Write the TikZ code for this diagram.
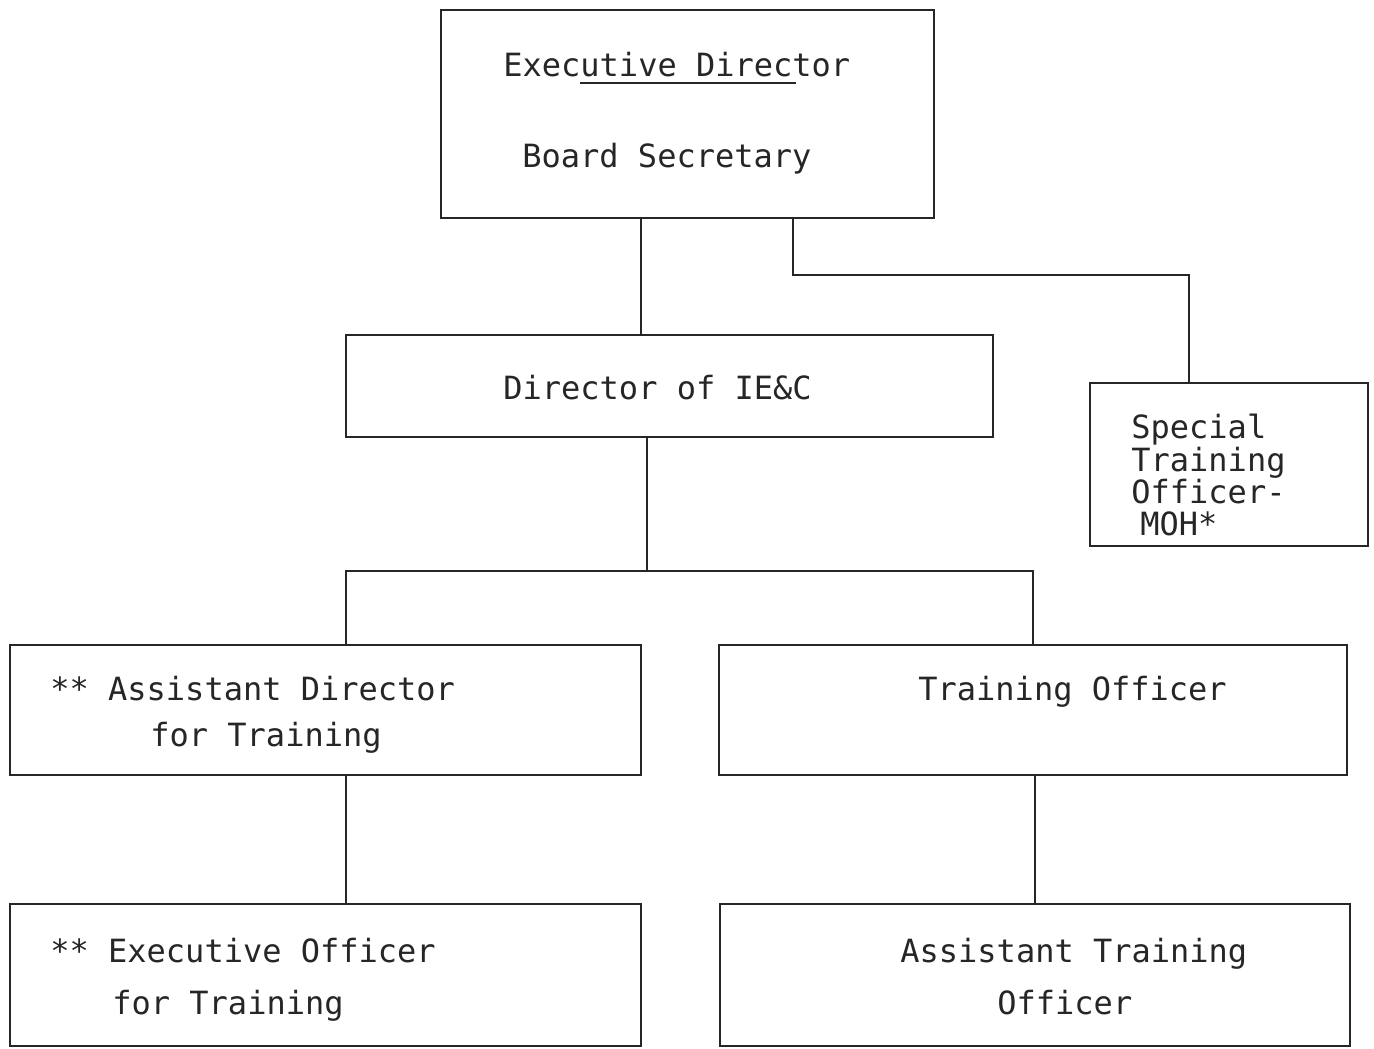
\documentclass[tikz,border=0pt]{standalone}
\usepackage{fontspec}
\setmonofont{DejaVu Sans Mono}
\begin{document}
\begin{tikzpicture}[x=0.5pt,y=-0.5pt,
  box/.style={draw=black!85,line width=1pt,rectangle,inner sep=0pt},
  conn/.style={draw=black!85,line width=1pt},
  lbl/.style={anchor=base west,inner sep=0pt,font=\ttfamily\fontsize{16}{16}\selectfont,text=black!85}]
\useasboundingbox[fill=white] (0,0) rectangle (1374,1048);
% boxes
\node[box,minimum width=246.5pt,minimum height=104pt] (exec) at (687.5,114) {};
\node[box,minimum width=323.5pt,minimum height=51pt] (dir) at (669.5,386) {};
\node[box,minimum width=139pt,minimum height=81.5pt] (spec) at (1229,464.5) {};
\node[box,minimum width=315.5pt,minimum height=65pt] (ad) at (325.5,710) {};
\node[box,minimum width=314pt,minimum height=65pt] (to) at (1033,710) {};
\node[box,minimum width=315.5pt,minimum height=71pt] (eo) at (325.5,975) {};
\node[box,minimum width=315pt,minimum height=71pt] (ato) at (1035,975) {};
% texts
\node[lbl] (t1) at (503,77) {Executive Director};
\node[lbl] (t2) at (522,168) {Board Secretary};
\node[lbl] (t3) at (503,399) {Director of IE\&C};
\node[lbl] (t4) at (1131,438) {Special};
\node[lbl] (t5) at (1131,471) {Training};
\node[lbl] (t6) at (1131,503) {Officer-};
\node[lbl] (t7) at (1140,535) {MOH*};
\node[lbl] (t8) at (50,700) {** Assistant Director};
\node[lbl] (t9) at (150,746) {for Training};
\node[lbl] (t10) at (918,700) {Training Officer};
\node[lbl] (t11) at (50,962) {** Executive Officer};
\node[lbl] (t12) at (112,1014) {for Training};
\node[lbl] (t13) at (900,962) {Assistant Training};
\node[lbl] (t14) at (997,1014) {Officer};
\coordinate (u1) at (580,83);
\coordinate (u2) at (796,83);
\draw[conn] (u1) -- (u2);
% connectors
\draw[conn] (exec.south -| 641,0) -- (dir.north -| 641,0);
\draw[conn] (exec.south -| 793,0) |- (1189,275) -- (spec.north -| 1189,0);
\draw[conn] (dir.south -| 647,0) -- (647,571);
\draw[conn] (ad.north -| 346,0) |- (1033,571) -- (to.north -| 1033,0);
\draw[conn] (ad.south -| 346,0) -- (eo.north -| 346,0);
\draw[conn] (to.south -| 1035,0) -- (ato.north -| 1035,0);
\end{tikzpicture}
\end{document}
